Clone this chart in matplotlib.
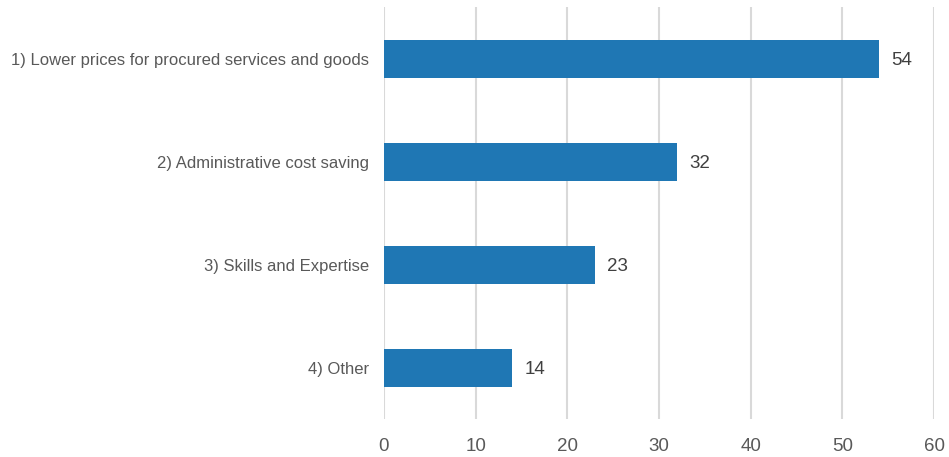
import matplotlib.pyplot as plt

plt.rcParams['font.family'] = ['Liberation Sans', 'DejaVu Sans']

categories = ["1) Lower prices for procured services and goods",
              "2) Administrative cost saving",
              "3) Skills and Expertise",
              "4) Other"]
values = [54, 32, 23, 14]
x_ticks = [0, 10, 20, 30, 40, 50, 60]

fig = plt.figure(figsize=(9.49, 4.57), dpi=100)
ax = fig.add_axes([0.4046, 0.0821, 0.5796, 0.9015])

bars = ax.barh(range(len(categories)), values, height=0.36, color='#1f77b4', zorder=3)
# value labels just right of each bar
for b, v in zip(bars, values):
    ax.annotate(str(v), (b.get_width(), b.get_y() + b.get_height() / 2),
                xytext=(12, -2), textcoords='offset pixels',
                va='center', ha='left', fontsize=13.5, color='#404040')

ax.set_ylim(len(categories) - 0.5, -0.5)
ax.set_xlim(0, 60)
ax.set_yticks(range(len(categories)))
ax.set_yticklabels(categories, fontsize=12, color='#595959')
ax.set_xticks(x_ticks)
ax.set_xticklabels([str(t) for t in x_ticks], fontsize=13.5, color='#595959')
ax.tick_params(axis='both', length=0)
ax.tick_params(axis='y', pad=11)
ax.tick_params(axis='x', pad=13)
ax.grid(axis='x', color='#d9d9d9', linewidth=1.5, zorder=0)
for s in ax.spines.values():
    s.set_visible(False)

fig.savefig('out.png', dpi=100)
